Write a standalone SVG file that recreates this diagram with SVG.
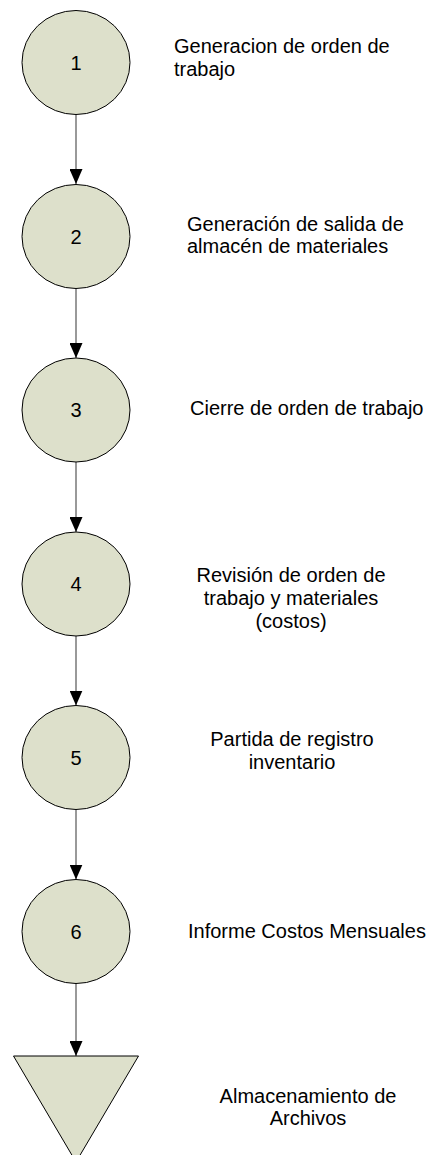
<svg xmlns="http://www.w3.org/2000/svg" width="435" height="1155" viewBox="0 0 435 1155">
<style>
.node{fill:#dde0cb;stroke:#000;stroke-width:1}
.num{font-family:"Liberation Sans",Arial,sans-serif;font-size:20px;fill:#000;text-anchor:middle}
.lbl{font-family:"Liberation Sans",Arial,sans-serif;font-size:20px;fill:#000}
.mid{text-anchor:middle}
.conn{stroke:#555;stroke-width:1.2;fill:none}
</style>
<defs>
<marker id="arr" markerWidth="15" markerHeight="13" refX="15" refY="6.5" orient="auto" markerUnits="userSpaceOnUse">
<path d="M0,0 L15,6.5 L0,13 Z" fill="#000"/>
</marker>
</defs>
<rect width="435" height="1155" fill="#fff"/>
<g id="connectors">
<line class="conn" x1="76" y1="114.5" x2="76" y2="184" marker-end="url(#arr)"/>
<line class="conn" x1="76" y1="288.5" x2="76" y2="358" marker-end="url(#arr)"/>
<line class="conn" x1="76" y1="462" x2="76" y2="532" marker-end="url(#arr)"/>
<line class="conn" x1="76" y1="636" x2="76" y2="705.5" marker-end="url(#arr)"/>
<line class="conn" x1="76" y1="809.5" x2="76" y2="879.5" marker-end="url(#arr)"/>
<line class="conn" x1="76" y1="983.5" x2="76" y2="1056" marker-end="url(#arr)"/>
</g>
<g id="node1">
<ellipse class="node" cx="76" cy="62.5" rx="54" ry="52"/>
<text class="num" x="76" y="69.5">1</text>
<text class="lbl" x="174" y="53">Generacion de orden de</text>
<text class="lbl" x="174" y="76">trabajo</text>
</g>
<g id="node2">
<ellipse class="node" cx="76" cy="236.5" rx="54" ry="52"/>
<text class="num" x="76" y="243.5">2</text>
<text class="lbl" x="187" y="231">Generación de salida de</text>
<text class="lbl" x="187" y="253">almacén de materiales</text>
</g>
<g id="node3">
<ellipse class="node" cx="76" cy="410" rx="54" ry="52"/>
<text class="num" x="76" y="417">3</text>
<text class="lbl" x="190" y="415">Cierre de orden de trabajo</text>
</g>
<g id="node4">
<ellipse class="node" cx="76" cy="584" rx="54" ry="52"/>
<text class="num" x="76" y="591">4</text>
<text class="lbl mid" x="291" y="582">Revisión de orden de</text>
<text class="lbl mid" x="291" y="605">trabajo y materiales</text>
<text class="lbl mid" x="291" y="628">(costos)</text>
</g>
<g id="node5">
<ellipse class="node" cx="76" cy="757.5" rx="54" ry="52"/>
<text class="num" x="76" y="764.5">5</text>
<text class="lbl mid" x="292" y="746">Partida de registro</text>
<text class="lbl mid" x="292" y="769">inventario</text>
</g>
<g id="node6">
<ellipse class="node" cx="76" cy="931.5" rx="54" ry="52"/>
<text class="num" x="76" y="938.5">6</text>
<text class="lbl" x="188" y="938">Informe Costos Mensuales</text>
</g>
<g id="node7">
<polygon class="node" points="13.5,1056 138.5,1056 76,1162"/>
<text class="lbl mid" x="308" y="1103">Almacenamiento de</text>
<text class="lbl mid" x="308" y="1125">Archivos</text>
</g>
</svg>
